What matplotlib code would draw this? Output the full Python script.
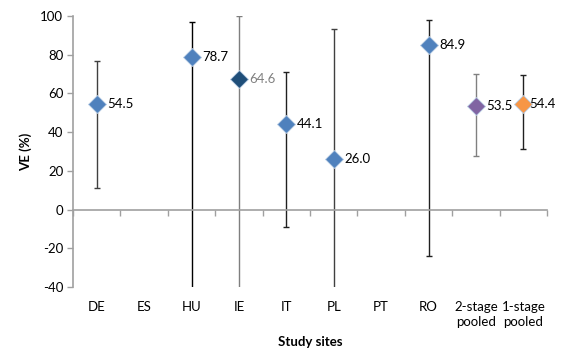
import matplotlib
matplotlib.use("Agg")
import matplotlib.pyplot as plt
import numpy as np

plt.rcParams['font.family'] = ['Lato', 'DejaVu Sans']
plt.rcParams['axes.unicode_minus'] = False

categories = ["DE", "ES", "HU", "IE", "IT", "PL", "PT", "RO", "2-stage\npooled", "1-stage\npooled"]
ve =    [54.5, None, 78.7, 67.5, 44.1, 26.0, None, 84.9, 53.5, 54.4]
upper = [77.0, None, 97.1, 100.0, 71.3, 93.3, None, 97.9, 69.9, 69.4]
lower = [11.0, None, -60.0, -60.0, -8.9, -60.0, None, -23.8, 27.9, 31.1]
labels = ["54.5", "", "78.7", "64.6", "44.1", "26.0", "", "84.9", "53.5", "54.4"]

marker_colors = ["#4F81BD", None, "#4F81BD", "#1F4E79", "#4F81BD", "#4F81BD", None, "#4F81BD", "#8064A2", "#F79646"]
bar_colors = ["#404040", None, "#000000", "#7F7F7F", "#202020", "#404040", None, "#202020", "#808080", "#202020"]
label_colors = ["#000000", None, "#000000", "#808080", "#000000", "#000000", None, "#000000", "#000000", "#000000"]

fig = plt.figure(figsize=(5.72, 3.53), dpi=100)
ax = fig.add_axes([73/572, 1-287/353, (547-73)/572, (287-16)/353])

x = np.arange(len(categories))
for i, v in enumerate(ve):
    if v is None:
        continue
    ax.errorbar(x[i], v, yerr=[[v - lower[i]], [upper[i] - v]], fmt='none',
                ecolor=bar_colors[i], elinewidth=1.0, capsize=2.2, capthick=1.0, zorder=2)
    ax.plot(x[i], v, marker='D', markersize=9, color=marker_colors[i],
            markeredgecolor="#B8CCE4", markeredgewidth=0.6, zorder=3, clip_on=False)
    dx = 0.22 if i != 9 else 0.13
    ax.text(x[i] + dx, v, labels[i], va='center', ha='left', fontsize=9.5,
            color=label_colors[i])

ax.set_xlim(-0.5, len(categories) - 0.5)
ax.set_ylim(-40, 100)
ax.set_yticks(np.arange(-40, 101, 20))
ax.tick_params(axis='y', labelsize=9.5, length=4, color='#A0A0A0', width=1, pad=3)

for s in ['top', 'right']:
    ax.spines[s].set_visible(False)
ax.spines['left'].set_color('#A0A0A0')
ax.spines['left'].set_linewidth(1.2)
ax.spines['bottom'].set_position(('data', 0))
ax.spines['bottom'].set_color('#A0A0A0')
ax.spines['bottom'].set_linewidth(1.2)

ax.set_xticks(x)
ax.set_xticklabels(categories, fontsize=9.5, linespacing=1.25, va='top')
ax.set_xticks(np.arange(-0.5, len(categories), 1.0), minor=True)
ax.tick_params(axis='x', which='major', length=0, pad=66)
ax.tick_params(axis='x', which='minor', length=4, color='#A0A0A0', width=1)

ax.set_ylabel("VE (%)", fontsize=9.5, fontweight='bold', labelpad=6)
fig.text(310/572, 1-342/353, "Study sites", ha='center', va='center', fontsize=9.5, fontweight='bold')

fig.savefig("out.png", dpi=100, facecolor='white')
